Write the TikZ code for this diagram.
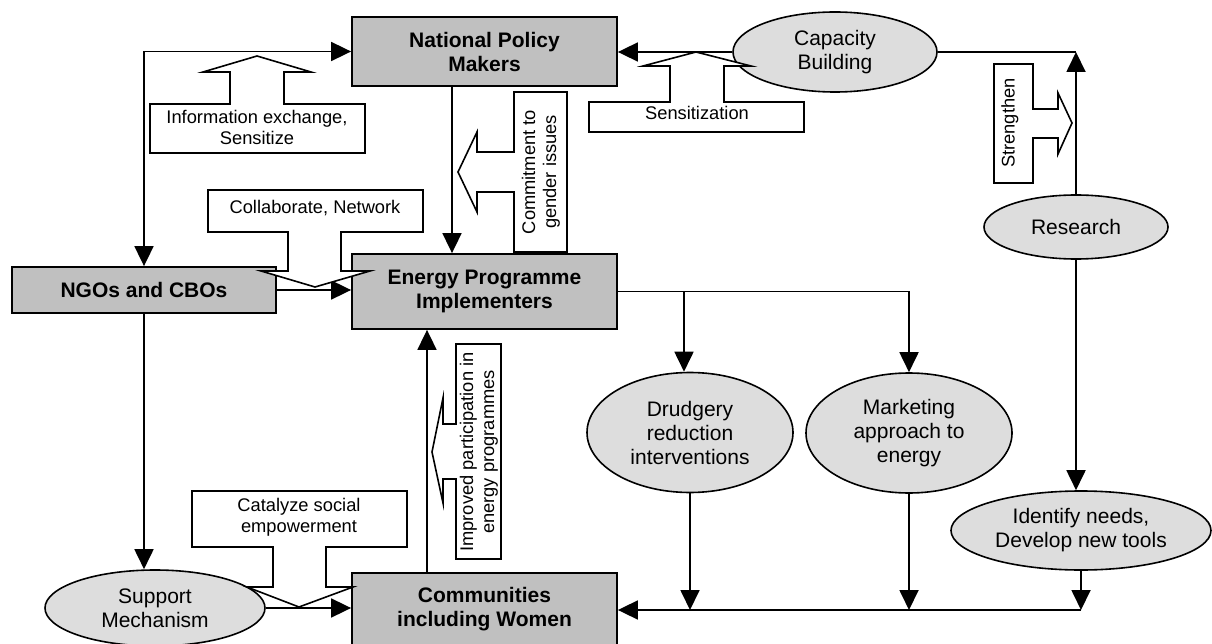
\documentclass[tikz,border=0pt]{standalone}
\usepackage{fontspec}
\setmainfont{Liberation Sans}
\usetikzlibrary{arrows.meta,shapes.geometric}
\definecolor{boxgray}{RGB}{192,192,192}
\definecolor{ovalgray}{RGB}{221,221,221}
\begin{document}
\begin{tikzpicture}[x=1pt,y=-1pt,
  conn/.style={line width=1.8pt},
  arr/.style={conn,-{Triangle[length=20pt,width=19pt]}},
  arrboth/.style={conn,{Triangle[length=20pt,width=19pt]}-{Triangle[length=20pt,width=19pt]}},
  box/.style={draw,line width=1.8pt,fill=boxgray,minimum width=265pt,inner sep=0pt,
    align=center,font=\bfseries\fontsize{21}{24}\selectfont},
  oval/.style={ellipse,draw,line width=1.6pt,fill=ovalgray,inner sep=0pt,
    align=center,font=\fontsize{21}{24}\selectfont},
  callout/.style={draw,fill=white,line width=1.6pt,line join=miter},
  ctext/.style={align=center,inner sep=0pt,font=\fontsize{18.3}{21}\selectfont}]

\useasboundingbox (0,0) rectangle (1212,644);
\clip (0,0) rectangle (1212,644);

% actors
\node[box,minimum height=69pt] (npm) at (484.5,51.5) {National Policy\\Makers};
\node[box,minimum height=75pt] (epi) at (484.5,291.5) {Energy Programme\\Implementers};
\node[box,minimum width=264pt,minimum height=46pt] (ngo) at (144,290) {NGOs and CBOs};
\node[box,minimum height=73pt] (com) at (484.5,609.5) {Communities\\including Women};

% activities
\node[oval,minimum width=204pt,minimum height=80pt] (cap) at (835,52) {Capacity\\Building};
\node[oval,minimum width=184pt,minimum height=64pt] (res) at (1076,227) {Research};
\node[oval,minimum width=206pt,minimum height=120pt] (dru) at (690,432.5) {Drudgery\\reduction\\interventions};
\node[oval,minimum width=206pt,minimum height=120pt] (mkt) at (909,433) {Marketing\\approach to\\energy};
\node[oval,minimum width=260pt,minimum height=79pt] (idn) at (1081,530.5) {Identify needs,\\Develop new tools};
\node[oval,minimum width=220pt,minimum height=76pt] (sup) at (155,608) {Support\\Mechanism};

% helper coordinates for offset connectors
\coordinate (xa) at (452,0);
\coordinate (xb) at (427,0);
\coordinate (xc) at (684,0);
\coordinate (yb) at (0,610);

% connectors
\draw[arrboth] (ngo.north) |- (npm.west);
\draw[arr] (npm.south -| xa) -- (epi.north -| xa);
\draw[arr] (cap.west) -- (cap.west -| npm.east);
\draw[conn] (cap.east) -- (cap.east -| res.north);
\draw[arr] (res.north) -- (res.north |- cap.east);
\draw[arr] (res.south) -- (res.south |- idn.north);
\draw[arr] (ngo.east) -- (ngo.east -| epi.west);
\draw[arr] (ngo.south) -- (ngo.south |- sup.north);
\draw[arr] (sup.east) -- (sup.east -| com.west);
\draw[arr] (com.north -| xb) -- (epi.south -| xb);
\draw[arr] (epi.east) -| (mkt.north);
\draw[arr] (epi.east -| xc) -- (dru.north -| xc);
\draw[arr] (idn.south) -- (idn.south |- yb);
\draw[arr] (idn.south |- yb) -- (com.east |- yb);
\draw[arr] (dru.south) -- (dru.south |- yb);
\draw[arr] (mkt.south) -- (mkt.south |- yb);

% block-arrow callouts
\draw[callout] (150,153) -- (365,153) -- (365,104) -- (284,104) -- (284,72) -- (311,72)
  -- (257,56) -- (203,72) -- (230,72) -- (230,104) -- (150,104) -- cycle;
\node[ctext] (tinfo) at (257,127) {Information exchange,\\Sensitize};

\draw[callout] (589,132) -- (804,132) -- (804,102) -- (724,102) -- (724,66) -- (751,66)
  -- (696,52) -- (643,66) -- (670,66) -- (670,102) -- (589,102) -- cycle;
\node[ctext] (tsens) at (697,113) {Sensitization};

\draw[callout] (994,64) -- (1033,64) -- (1033,109) -- (1058,109) -- (1058,93) -- (1072,123)
  -- (1058,154) -- (1058,138) -- (1033,138) -- (1033,183) -- (994,183) -- cycle;
\node[ctext,rotate=90] (tstr) at (1010,123) {Strengthen};

\draw[callout] (208,190) -- (423,190) -- (423,232) -- (341,232) -- (341,271) -- (370,271)
  -- (315,287) -- (261,271) -- (288,271) -- (288,232) -- (208,232) -- cycle;
\node[ctext] (tcoll) at (315,208) {Collaborate, Network};

\draw[callout] (514,92) -- (567,92) -- (567,252) -- (514,252) -- (514,192) -- (477,192)
  -- (477,212) -- (458,172) -- (477,132) -- (477,152) -- (514,152) -- cycle;
\node[ctext,rotate=90] (tcomm) at (541,172) {Commitment to\\gender issues};

\draw[callout] (456,344) -- (501,344) -- (501,559) -- (456,559) -- (456,479) -- (443,479)
  -- (443,503) -- (432,452) -- (443,398) -- (443,424) -- (456,424) -- cycle;
\begin{scope}
  \clip (457,345) rectangle (500,558);
  \node[ctext,rotate=90] (timpr) at (479,452) {Improved participation in\\energy programmes};
\end{scope}

\draw[callout] (192,491) -- (407,491) -- (407,547) -- (326,547) -- (326,587) -- (353,587)
  -- (299,607) -- (247,587) -- (273,587) -- (273,547) -- (192,547) -- cycle;
\node[ctext] (tcat) at (299,517) {Catalyze social\\empowerment};

\end{tikzpicture}
\end{document}
